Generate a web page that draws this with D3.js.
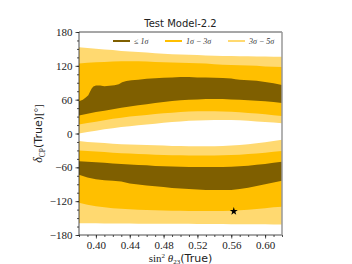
<!DOCTYPE html>
<html>
<head>
<meta charset="utf-8">
<script src="https://cdn.jsdelivr.net/npm/d3@7"></script>
<style>
  body { margin: 0; background: #fff; }
</style>
</head>
<body>
<script>
// sin^2(theta23) grid shared by most contours
const xGrid = [0.38, 0.39, 0.40, 0.41, 0.42, 0.43, 0.44, 0.45, 0.46, 0.47, 0.48, 0.49, 0.50,
               0.51, 0.52, 0.53, 0.54, 0.55, 0.56, 0.57, 0.58, 0.59, 0.60, 0.61, 0.62];

// upper island (delta_CP > 0)
const upLightTop    = [153, 151.5, 150.5, 149, 148, 146.5, 145.5, 144.5, 143.5, 142.5, 141.5, 140.5, 140,
                       139.5, 139, 138.5, 138, 137.5, 137.5, 137, 137, 136.5, 136.5, 136, 136];
const upOrangeTop   = [124, 125.5, 126.5, 127, 127.5, 128, 128, 128, 127.5, 127, 126.5, 126, 125.5,
                       125, 124.5, 124, 123, 122, 121.5, 121, 120.5, 120, 119, 118.5, 118];
const upDarkBottom  = [32, 35, 38, 40.5, 43, 45.5, 48, 50, 52, 54, 56, 57.5, 59,
                       60, 60.5, 61, 61, 61, 60.5, 60, 59, 58, 57, 56, 54];
const upOrangeBottom = [16, 18.5, 21, 23.5, 26, 28, 30, 31.5, 33, 34.5, 36, 37, 38,
                        39, 39.5, 39.5, 39.5, 39, 38.5, 37.5, 36.5, 35.5, 34, 32.5, 31];
const upLightBottom = [0, 2.5, 5, 7.5, 9.5, 11.5, 13, 14.5, 16, 17.5, 19, 20.5, 21.5,
                       22.5, 23, 23.5, 24, 24, 24, 23.5, 22.5, 21.5, 20.5, 19.5, 18];

// the 1 sigma upper edge is ragged, so it has its own grid
const darkTopX = [0.38, 0.3845, 0.388, 0.391, 0.393, 0.395, 0.397, 0.400, 0.405, 0.410, 0.416, 0.422,
                  0.427, 0.431, 0.436, 0.442, 0.45, 0.46, 0.47, 0.48, 0.49, 0.50, 0.51, 0.52, 0.53,
                  0.54, 0.55, 0.56, 0.565, 0.57, 0.58, 0.59, 0.60, 0.61, 0.62];
const upDarkTop = [57, 60, 64, 68, 74, 80, 83.5, 85, 85, 84, 84.5, 85.5,
                   87.5, 91, 93, 94.5, 95.5, 97, 98, 99, 99.5, 100, 100, 99.5, 99.5,
                   99, 98.5, 97.5, 96, 95.5, 94.5, 93.5, 91.5, 89, 86];

// lower island (delta_CP < 0)
const lowLightTop    = [-13.5, -15, -16, -17, -18, -19, -19.5, -20, -20.5, -21, -21.5, -22, -22,
                        -22.5, -22.5, -22.5, -22.5, -22, -21.5, -20.5, -19, -17.5, -15.5, -13.5, -11];
const lowOrangeTop   = [-30, -31, -32, -33, -34, -35, -35.5, -36.5, -37, -37.5, -38, -38.5, -38.5,
                        -39, -39, -39, -39, -38.5, -38, -37.5, -36.5, -35.5, -34, -32.5, -31];
const lowDarkTop     = [-49, -50, -51, -52, -53, -54, -55, -56, -56.5, -57.5, -58, -58.5, -59,
                        -59.5, -59.5, -59.5, -59.5, -59.5, -59, -58, -57, -55.5, -54, -52, -50];
const lowDarkBottom  = [-73, -78, -81, -83, -84, -85, -88.5, -90.5, -92, -93.5, -95, -96.5, -97.5,
                        -98.5, -99.5, -100, -100, -100, -100, -98.5, -96, -93, -90, -87, -84];
const lowOrangeBottom = [-123, -126.5, -129, -131, -132.5, -133.5, -134.5, -135, -135.5, -136, -136.5, -137, -137,
                         -137.5, -137.5, -137.5, -137.5, -137.5, -137, -136, -135, -134, -132.5, -131, -130];
const lowLightBottom = [-159, -159, -159, -159.5, -159.5, -159.5, -159.5, -160, -160, -160, -160, -160, -160,
                        -160, -160.5, -160.5, -160.5, -160.5, -161, -161, -161, -161, -161, -161.5, -161.5];

// true point
const truePoint = { s23: 0.563, dcp: -138 };

const xTicks = [0.40, 0.44, 0.48, 0.52, 0.56, 0.60];
const yTicks = [-180, -120, -60, 0, 60, 120, 180];

const legendLabels = ['≤ 1σ', '1σ − 3σ', '3σ − 5σ'];
const colors = ['#7f5f00', '#ffbf00', '#ffd970'];

const width = 352, height = 264;
const margin = { top: 32, right: 70, bottom: 29, left: 79 };

const svg = d3.select('body').append('svg')
  .attr('width', width)
  .attr('height', height);

const xScale = d3.scaleLinear().domain([0.38, 0.62]).range([margin.left, width - margin.right]);
const yScale = d3.scaleLinear().domain([-180, 180]).range([height - margin.bottom, margin.top]);

svg.append('clipPath').attr('id', 'plot')
  .append('rect')
  .attr('x', margin.left).attr('y', margin.top)
  .attr('width', xScale(0.62) - margin.left)
  .attr('height', yScale(-180) - margin.top);

const line = d3.line().x(d => xScale(d[0])).y(d => yScale(d[1]));

// polygon between an upper edge and a lower edge
function band(xTop, top, xBot, bot) {
  const pts = xTop.map((x, i) => [x, top[i]]);
  const back = xBot.map((x, i) => [x, bot[i]]).reverse();
  return line(pts.concat(back)) + 'Z';
}

const g = svg.append('g').attr('clip-path', 'url(#plot)');

// upper island
g.append('path').attr('d', band(xGrid, upLightTop, xGrid, upLightBottom)).attr('fill', colors[2]);
g.append('path').attr('d', band(xGrid, upOrangeTop, xGrid, upOrangeBottom)).attr('fill', colors[1]);
g.append('path').attr('d', band(darkTopX, upDarkTop, xGrid, upDarkBottom)).attr('fill', colors[0]);

// lower island
g.append('path').attr('d', band(xGrid, lowLightTop, xGrid, lowLightBottom)).attr('fill', colors[2]);
g.append('path').attr('d', band(xGrid, lowOrangeTop, xGrid, lowOrangeBottom)).attr('fill', colors[1]);
g.append('path').attr('d', band(xGrid, lowDarkTop, xGrid, lowDarkBottom)).attr('fill', colors[0]);

// star for the true value
svg.append('path')
  .attr('d', d3.symbol().type(d3.symbolStar).size(20)())
  .attr('transform', `translate(${xScale(truePoint.s23)},${yScale(truePoint.dcp)})`)
  .attr('fill', '#000');

// axes
const serif = '"Liberation Serif", "DejaVu Serif", serif';
const sans = '"DejaVu Sans", sans-serif';

const xAxis = svg.append('g')
  .attr('transform', `translate(0,${yScale(-180)})`)
  .call(d3.axisBottom(xScale).tickValues(xTicks).tickFormat(d3.format('.2f')).tickSize(3.5).tickPadding(3));
const xMinor = svg.append('g')
  .attr('transform', `translate(0,${yScale(-180)})`)
  .call(d3.axisBottom(xScale).tickValues(d3.range(38, 63).map(v => v / 100)).tickFormat('').tickSize(2));

const yAxis = svg.append('g')
  .attr('transform', `translate(${margin.left},0)`)
  .call(d3.axisLeft(yScale).tickValues(yTicks).tickFormat(d => d < 0 ? '−' + Math.abs(d) : d).tickSize(3.5).tickPadding(3));
const yMinor = svg.append('g')
  .attr('transform', `translate(${margin.left},0)`)
  .call(d3.axisLeft(yScale).tickValues(d3.range(-180, 181, 15)).tickFormat('').tickSize(2));

[xAxis, xMinor, yAxis, yMinor].forEach(a => {
  a.select('.domain').remove();
  a.selectAll('line').attr('stroke', '#222').attr('stroke-width', 0.8);
  a.selectAll('text').style('font-family', serif).style('font-size', '11px').attr('fill', '#222');
});

// spines
const x0 = xScale(0.38), x1 = xScale(0.62), y0 = yScale(-180), y1 = yScale(180);
svg.append('line').attr('x1', x0).attr('x2', x1).attr('y1', y1).attr('y2', y1).attr('stroke', '#222').attr('stroke-width', 0.8);
svg.append('line').attr('x1', x0).attr('x2', x1).attr('y1', y0).attr('y2', y0).attr('stroke', '#222').attr('stroke-width', 0.8);
svg.append('line').attr('x1', x0).attr('x2', x0).attr('y1', y0).attr('y2', y1).attr('stroke', '#222').attr('stroke-width', 0.8);
svg.append('line').attr('x1', x1).attr('x2', x1).attr('y1', y0).attr('y2', y1).attr('stroke', '#999').attr('stroke-width', 1.5);

// title
svg.append('text')
  .attr('x', (x0 + x1) / 2)
  .attr('y', 26.5)
  .attr('text-anchor', 'middle')
  .style('font-family', sans)
  .style('font-size', '10px')
  .attr('fill', '#222')
  .text('Test Model-2.2');

// legend
const legendX = [113, 165, 228];
legendLabels.forEach((lab, i) => {
  svg.append('line')
    .attr('x1', legendX[i]).attr('x2', legendX[i] + 17)
    .attr('y1', 41).attr('y2', 41)
    .attr('stroke', colors[i]).attr('stroke-width', 2);
  svg.append('text')
    .attr('x', legendX[i] + 21)
    .attr('y', 43.5)
    .style('font-family', serif)
    .style('font-size', '8px')
    .style('font-style', 'italic')
    .attr('fill', '#333')
    .text(lab);
});

// y label
const yLab = svg.append('text')
  .attr('transform', `translate(42,${(y0 + y1) / 2}) rotate(-90)`)
  .attr('text-anchor', 'middle')
  .attr('fill', '#222')
  .style('font-size', '11px');
yLab.append('tspan').style('font-family', serif).style('font-style', 'italic').style('font-size', '12px').text('δ');
yLab.append('tspan').style('font-family', serif).style('font-size', '7.5px').attr('dy', 2.5).text('CP');
yLab.append('tspan').style('font-family', sans).attr('dy', -2.5).text('(True)');
yLab.append('tspan').style('font-family', serif).text('[°]');

// x label
const xLab = svg.append('text')
  .attr('x', (x0 + x1) / 2)
  .attr('y', 261.5)
  .attr('text-anchor', 'middle')
  .attr('fill', '#222')
  .style('font-size', '11px');
xLab.append('tspan').style('font-family', serif).text('sin');
xLab.append('tspan').style('font-family', serif).style('font-size', '7px').attr('dy', -3.5).text('2');
xLab.append('tspan').style('font-family', serif).style('font-style', 'italic').attr('dy', 3.5).text(' θ');
xLab.append('tspan').style('font-family', serif).style('font-size', '7px').attr('dy', 2).text('23');
xLab.append('tspan').style('font-family', sans).attr('dy', -2).text('(True)');
</script>
</body>
</html>
